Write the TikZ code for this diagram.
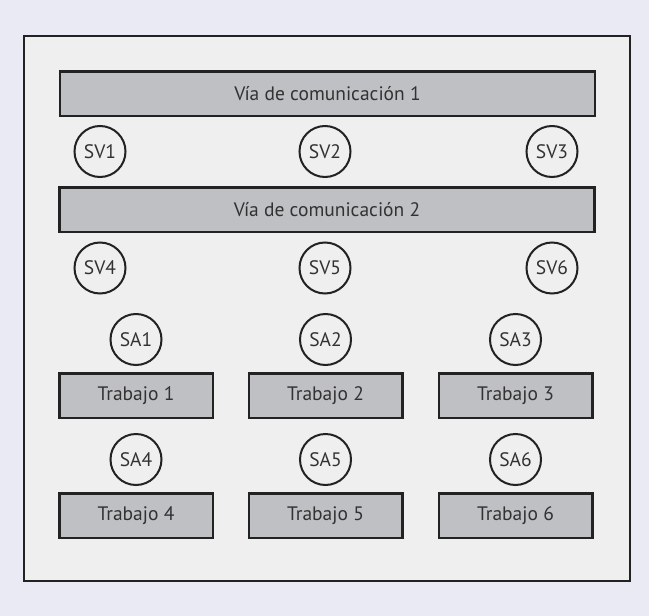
\documentclass[tikz,border=0pt]{standalone}
\usepackage{fontspec}
\setmainfont{PT Sans}
\usetikzlibrary{positioning}
\definecolor{pagebg}{RGB}{234,234,244}
\definecolor{panelbg}{RGB}{239,239,239}
\definecolor{barfill}{RGB}{191,192,196}
\definecolor{ink}{RGB}{34,34,34}
\definecolor{txt}{RGB}{50,50,50}

\begin{document}
\begin{tikzpicture}[x=1pt,y=-1pt,font=\fontsize{19.5}{22}\selectfont,
    busbar/.style={draw=ink,line width=2.5pt,fill=barfill,text=txt,
      minimum width=535pt,minimum height=44.5pt,inner sep=0pt},
    jobbox/.style={busbar,minimum width=153.5pt},
    swnode/.style={circle,draw=ink,line width=2pt,text=txt,
      minimum size=51pt,inner sep=0pt}]
  % ---------------- page and panel ------------------------------------
  \fill[pagebg] (0,0) rectangle (649,616);
  \draw[ink,line width=2pt,fill=panelbg] (24,35.5) rectangle (630,580.5);
  % ---------------- communication paths and their switches ------------
  \node[busbar] (via1) at (327.5,93.5) {Vía de comunicación 1};
  \node[busbar] (via2) at (327,209.5) {Vía de comunicación 2};
  \foreach \i/\xx in {1/100,2/325,3/552}
    \node[swnode] (sv\i) at (\xx,151.5) {SV\i};
  \foreach \i/\xx in {4/100,5/325,6/552}
    \node[swnode] (sv\i) at (\xx,268) {SV\i};
  % ---------------- jobs with their own switch on top -----------------
  \foreach \i/\xx in {1/136,2/325.5,3/515.5}
    \node[jobbox] (job\i) at (\xx,395.5) {Trabajo \i};
  \foreach \i/\xx in {4/136,5/325.5,6/515.5}
    \node[jobbox] (job\i) at (\xx,515.5) {Trabajo \i};
  \foreach \i in {1,...,6}
    \node[swnode,above=6pt of job\i] (sa\i) {SA\i};
\end{tikzpicture}
\end{document}
